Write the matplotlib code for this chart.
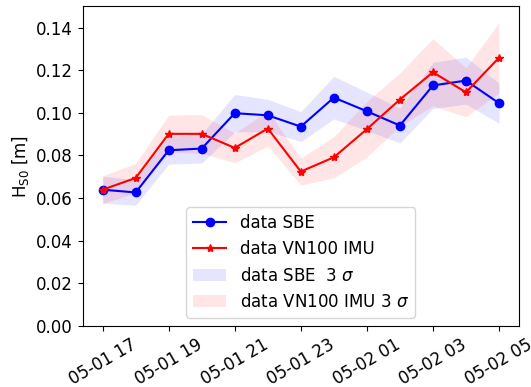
import numpy as np
import pandas as pd
import matplotlib
matplotlib.use('Agg')
import matplotlib.pyplot as plt
import matplotlib.dates as mdates

# hourly samples, 05-01 17:00 -> 05-02 05:00
times = pd.date_range('2023-05-01 17:00', periods=13, freq='h')

hs_sbe = [0.0639, 0.0626, 0.0824, 0.0832, 0.0998, 0.0988, 0.0935,
          0.1071, 0.1007, 0.0940, 0.1128, 0.1151, 0.1045]
hs_imu = [0.0639, 0.0694, 0.0901, 0.0901, 0.0835, 0.0926, 0.0724,
          0.0791, 0.0923, 0.1062, 0.1190, 0.1096, 0.1258]

# 3 sigma half widths
sig3_sbe = [0.0063, 0.0060, 0.0065, 0.0068, 0.0088, 0.0075, 0.0070,
            0.0100, 0.0090, 0.0082, 0.0108, 0.0110, 0.0094]
sig3_imu = [0.0065, 0.0068, 0.0088, 0.0090, 0.0070, 0.0082, 0.0063,
            0.0097, 0.0130, 0.0125, 0.0158, 0.0115, 0.0165]

hs_sbe = np.array(hs_sbe)
hs_imu = np.array(hs_imu)
sig3_sbe = np.array(sig3_sbe)
sig3_imu = np.array(sig3_imu)

plt.rcParams['font.size'] = 12

fig, ax = plt.subplots(figsize=(5.31, 3.87), dpi=100)
fig.subplots_adjust(left=0.156, right=0.977, top=0.984, bottom=0.158)

ax.plot(times, hs_sbe, 'b-o', label='data SBE')
ax.plot(times, hs_imu, 'r-*', label='data VN100 IMU')
ax.fill_between(times, hs_sbe - sig3_sbe, hs_sbe + sig3_sbe,
                color='b', alpha=0.1, linewidth=0, label=r'data SBE  3 $\sigma$')
ax.fill_between(times, hs_imu - sig3_imu, hs_imu + sig3_imu,
                color='r', alpha=0.1, linewidth=0, label=r'data VN100 IMU 3 $\sigma$')

ax.set_ylim(0, 0.15)
ax.set_ylabel(r'H$_{\rm S0}$ [m]')
ax.xaxis.set_major_locator(mdates.HourLocator(interval=2))
ax.xaxis.set_major_formatter(mdates.DateFormatter('%m-%d %H'))
plt.setp(ax.get_xticklabels(), rotation=30)
ax.legend(loc='lower center')

plt.savefig('out.png')
